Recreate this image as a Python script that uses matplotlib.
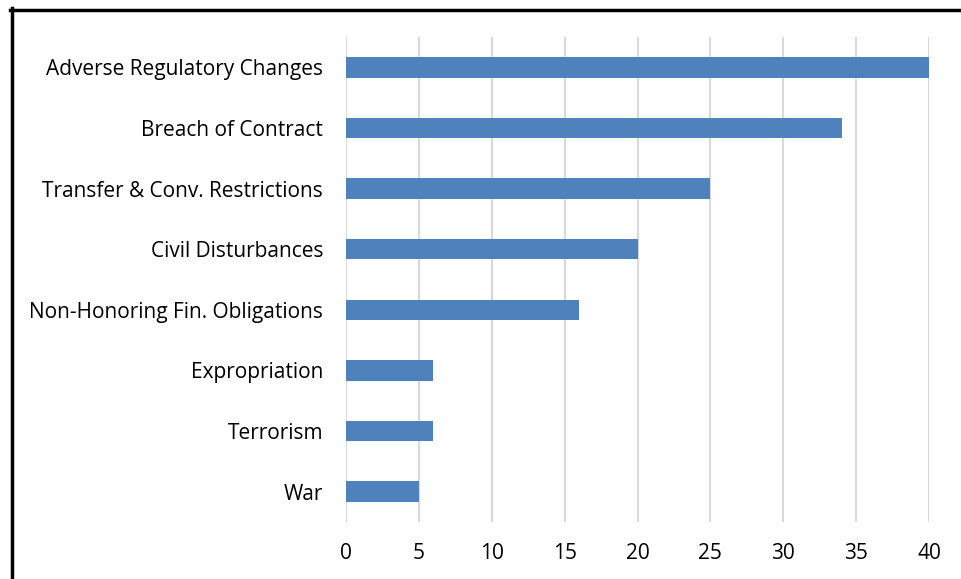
import matplotlib.pyplot as plt
from matplotlib.lines import Line2D

categories = ['War', 'Terrorism', 'Expropriation', 'Non-Honoring Fin. Obligations',
              'Civil Disturbances', 'Transfer & Conv. Restrictions',
              'Breach of Contract', 'Adverse Regulatory Changes']
values = [5, 6, 6, 16, 20, 25, 34, 40]
xticks = [0, 5, 10, 15, 20, 25, 30, 35, 40]

plt.rcParams['font.family'] = ['Open Sans', 'DejaVu Sans']

fig = plt.figure(figsize=(9.61, 5.79), dpi=100)
ax = fig.add_axes([346 / 961, 1 - 522 / 579, (929 - 346) / 961, (522 - 37) / 579])

ypos = range(len(categories))
ax.barh(ypos, values, height=0.34, color='#4F81BD', zorder=3)

ax.set_xlim(0, 40)
ax.set_ylim(-0.5, 7.5)
ax.set_xticks(xticks)
ax.set_yticks(list(ypos))
ax.set_yticklabels(categories, fontsize=15)
ax.set_xticklabels([str(t) for t in xticks], fontsize=15)
ax.tick_params(axis='y', length=0, pad=16.5)
ax.tick_params(axis='x', length=0, pad=15)
ax.grid(axis='x', color='#D9D9D9', linewidth=1.5, zorder=0)
for s in ax.spines.values():
    s.set_visible(False)

# black frame around the chart (left and top edges visible)
fig.add_artist(Line2D([11.5 / 961, 11.5 / 961], [0, 1 - 8 / 579], color='black',
                      linewidth=2.5, transform=fig.transFigure))
fig.add_artist(Line2D([10 / 961, 1], [1 - 9.5 / 579, 1 - 9.5 / 579], color='black',
                      linewidth=2.5, transform=fig.transFigure))

fig.savefig('out.png', dpi=100)
